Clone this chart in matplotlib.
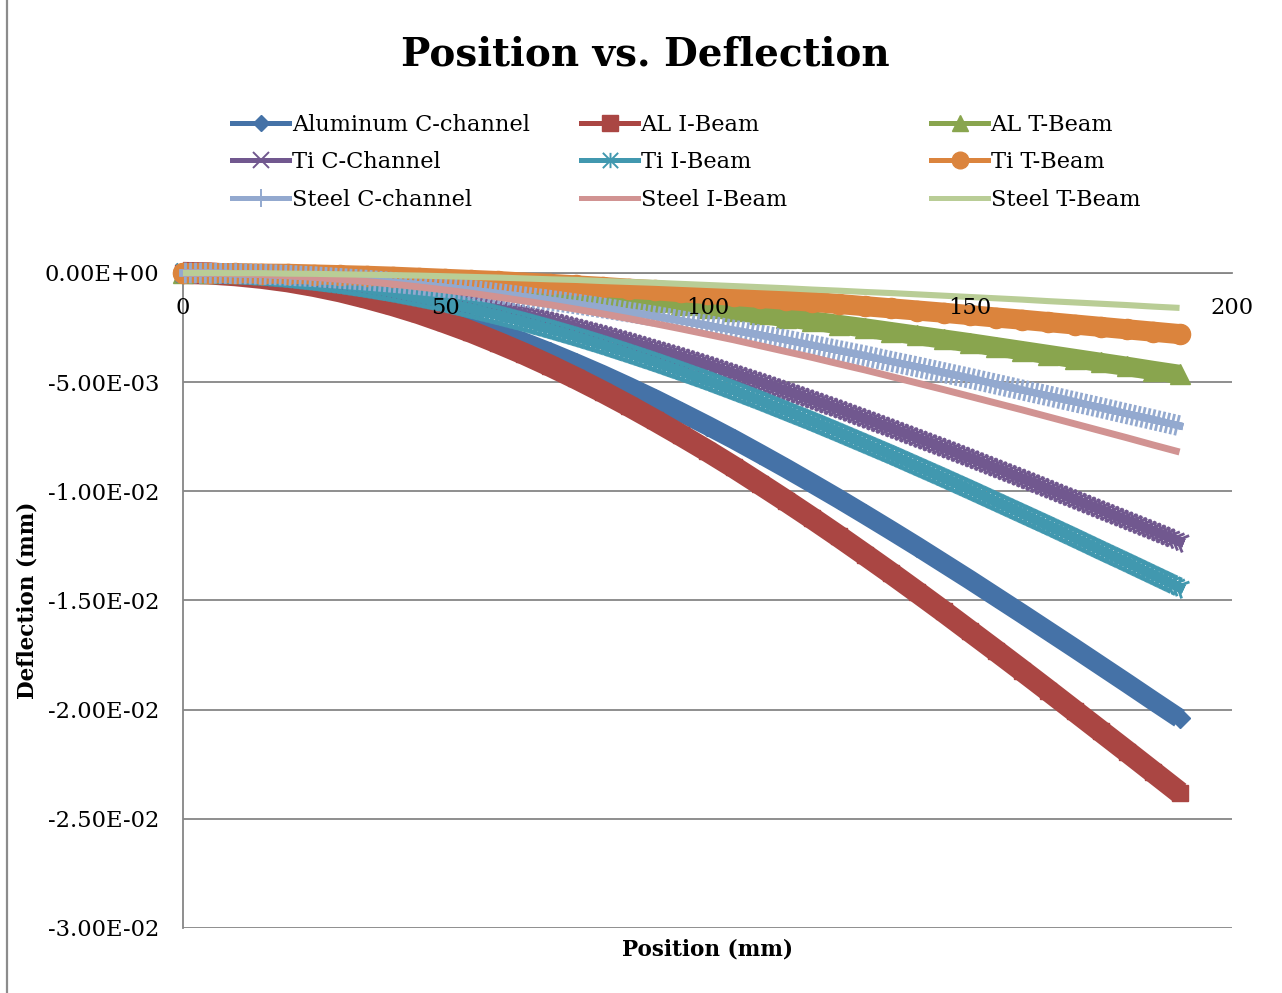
import numpy as np
import matplotlib.pyplot as plt
from matplotlib import patheffects as pe
from matplotlib.lines import Line2D
from matplotlib.path import Path
from matplotlib.ticker import FuncFormatter, MultipleLocator

plt.rcParams['font.family'] = ['DejaVu Serif']

# position along the beam (mm)
position = [0, 5, 10, 15, 20, 25, 30, 35, 40, 45, 50, 55, 60, 65, 70, 75, 80, 85, 90, 95,
            100, 105, 110, 115, 120, 125, 130, 135, 140, 145, 150, 155, 160, 165, 170, 175,
            180, 185, 190]

# downward deflection in micrometres at each position
al_c = [0, 0.02, 0.08, 0.19, 0.33, 0.51, 0.72, 0.97, 1.26, 1.58, 1.93, 2.32, 2.73, 3.17,
        3.64, 4.14, 4.66, 5.21, 5.78, 6.38, 6.99, 7.62, 8.28, 8.95, 9.64, 10.34, 11.06,
        11.79, 12.53, 13.29, 14.05, 14.83, 15.61, 16.40, 17.19, 17.99, 18.79, 19.60, 20.40]
al_i = [0, 0.02, 0.10, 0.22, 0.38, 0.59, 0.84, 1.14, 1.47, 1.84, 2.26, 2.70, 3.19, 3.70,
        4.25, 4.83, 5.44, 6.08, 6.75, 7.44, 8.15, 8.89, 9.66, 10.44, 11.24, 12.06, 12.90,
        13.75, 14.62, 15.50, 16.40, 17.30, 18.21, 19.13, 20.06, 20.99, 21.92, 22.86, 23.80]
al_t = [0, 0.00, 0.02, 0.04, 0.07, 0.12, 0.16, 0.22, 0.29, 0.36, 0.44, 0.53, 0.62, 0.72,
        0.83, 0.94, 1.06, 1.19, 1.32, 1.45, 1.59, 1.74, 1.89, 2.04, 2.20, 2.36, 2.52,
        2.69, 2.86, 3.03, 3.20, 3.38, 3.56, 3.74, 3.92, 4.10, 4.28, 4.47, 4.65]
ti_c = [0, 0.01, 0.05, 0.11, 0.20, 0.31, 0.44, 0.59, 0.76, 0.95, 1.17, 1.40, 1.65, 1.91,
        2.20, 2.50, 2.81, 3.14, 3.49, 3.84, 4.21, 4.60, 4.99, 5.40, 5.81, 6.23, 6.67,
        7.11, 7.56, 8.01, 8.47, 8.94, 9.41, 9.89, 10.37, 10.85, 11.33, 11.81, 12.30]
ti_i = [0, 0.01, 0.06, 0.13, 0.23, 0.36, 0.51, 0.69, 0.89, 1.12, 1.36, 1.64, 1.93, 2.24,
        2.57, 2.92, 3.29, 3.68, 4.08, 4.50, 4.93, 5.38, 5.84, 6.32, 6.80, 7.30, 7.81,
        8.32, 8.85, 9.38, 9.92, 10.47, 11.02, 11.57, 12.13, 12.70, 13.26, 13.83, 14.40]
ti_t = [0, 0.00, 0.01, 0.03, 0.04, 0.07, 0.10, 0.13, 0.17, 0.22, 0.27, 0.32, 0.37, 0.44,
        0.50, 0.57, 0.64, 0.72, 0.79, 0.88, 0.96, 1.05, 1.14, 1.23, 1.32, 1.42, 1.52,
        1.62, 1.72, 1.82, 1.93, 2.04, 2.14, 2.25, 2.36, 2.47, 2.58, 2.69, 2.80]
st_c = [0, 0.01, 0.03, 0.06, 0.11, 0.17, 0.25, 0.33, 0.43, 0.54, 0.66, 0.79, 0.94, 1.09,
        1.25, 1.42, 1.60, 1.79, 1.98, 2.19, 2.40, 2.62, 2.84, 3.07, 3.31, 3.55, 3.79,
        4.05, 4.30, 4.56, 4.82, 5.09, 5.36, 5.63, 5.90, 6.17, 6.45, 6.72, 7.00]
st_i = [0, 0.01, 0.03, 0.07, 0.13, 0.20, 0.29, 0.39, 0.51, 0.64, 0.78, 0.93, 1.10, 1.28,
        1.46, 1.66, 1.87, 2.09, 2.32, 2.56, 2.81, 3.06, 3.33, 3.60, 3.87, 4.16, 4.44,
        4.74, 5.04, 5.34, 5.65, 5.96, 6.27, 6.59, 6.91, 7.23, 7.55, 7.88, 8.20]
st_t = [0, 0.00, 0.01, 0.01, 0.03, 0.04, 0.06, 0.08, 0.10, 0.12, 0.15, 0.18, 0.21, 0.25,
        0.29, 0.32, 0.37, 0.41, 0.45, 0.50, 0.55, 0.60, 0.65, 0.70, 0.76, 0.81, 0.87,
        0.92, 0.98, 1.04, 1.10, 1.16, 1.22, 1.29, 1.35, 1.41, 1.47, 1.54, 1.60]

labels = ['Aluminum C-channel', 'AL I-Beam', 'AL T-Beam',
          'Ti C-Channel', 'Ti I-Beam', 'Ti T-Beam',
          'Steel C-channel', 'Steel I-Beam', 'Steel T-Beam']
colors = ['#4572A7', '#AA4643', '#89A54E', '#71588F', '#4198AF', '#DB843D',
          '#93A9CF', '#D19392', '#B9CD96']

# x with a vertical bar, the spreadsheet "star" marker
star = Path([(-1, -1), (1, 1), (-1, 1), (1, -1), (0, -1), (0, 1)],
            [Path.MOVETO, Path.LINETO, Path.MOVETO, Path.LINETO, Path.MOVETO, Path.LINETO])


def ticks(angles, length, spacing=3.6, lw=2.0):
    return [pe.withTickedStroke(spacing=spacing, angle=a, length=length, linewidth=lw)
            for a in angles]


def sci_label(v, _):
    if abs(v) < 1e-12:
        v = 0.0
    return f"{v:.2E}"


fig = plt.figure(figsize=(12.82, 9.93), dpi=100)
ax = fig.add_axes([0.1427, 0.0655, 0.8183, 0.6596])

x = np.array(position)
series = [al_c, al_i, al_t, ti_c, ti_i, ti_t, st_c, st_i, st_t]
ys = [-np.array(s) * 1e-3 for s in series]

# solid-marker series: a wide band with the markers on it
ax.plot(x, ys[0], color=colors[0], lw=14, solid_capstyle='butt', marker='D', ms=10,
        clip_on=False, zorder=3)
ax.plot(x, ys[1], color=colors[1], lw=16, solid_capstyle='butt', marker='s', ms=12,
        clip_on=False, zorder=3)
ax.plot(x, ys[2], color=colors[2], lw=14, solid_capstyle='butt', marker='^', ms=14,
        clip_on=False, zorder=3)

# stroke-marker series: line with hatching standing in for the packed markers
ax.plot(x, ys[3], color=colors[3], lw=6.5, clip_on=False, zorder=3,
        path_effects=[pe.Normal()] + ticks([45, -45, 135, -135], 2.3))
ax.plot(x, ys[4], color=colors[4], lw=6.5, clip_on=False, zorder=3,
        path_effects=[pe.Normal()] + ticks([45, -45, 135, -135], 2.3) + ticks([90, -90], 1.7))

ax.plot(x, ys[5], color=colors[5], lw=14.5, solid_capstyle='round', marker='o', ms=14.5,
        clip_on=False, zorder=3)
ax.plot(x, ys[6], color=colors[6], lw=5.2, clip_on=False, zorder=3,
        path_effects=[pe.Normal()] + ticks([90, -90], 1.8))
ax.plot(x, ys[7], color=colors[7], lw=5, solid_capstyle='butt', clip_on=False, zorder=3)
ax.plot(x, ys[8], color=colors[8], lw=4.4, solid_capstyle='butt', clip_on=False, zorder=3)

ax.set_xlim(0, 200)
ax.set_ylim(-0.03, 0)
ax.xaxis.set_major_locator(MultipleLocator(50))
ax.yaxis.set_major_locator(MultipleLocator(0.005))
ax.yaxis.set_major_formatter(FuncFormatter(sci_label))

ax.spines['bottom'].set_position(('data', 0))
ax.spines['top'].set_visible(False)
ax.spines['right'].set_visible(False)
for side in ('bottom', 'left'):
    ax.spines[side].set_color('#868686')
    ax.spines[side].set_linewidth(1.3)
ax.set_axisbelow(True)
ax.yaxis.grid(True, color='#868686', lw=1.3)
# position numbers sit on top of the curves
ax.xaxis.set_zorder(5)
ax.tick_params(axis='both', length=0, labelsize=16.3)
ax.tick_params(axis='y', pad=17)
ax.tick_params(axis='x', pad=17.5)

ax.set_xlabel('Position (mm)', fontsize=15.5, fontweight='bold')
ax.xaxis.set_label_coords(0.5, -0.016)
ax.set_ylabel('Deflection (mm)', fontsize=15.5, fontweight='bold')
ax.yaxis.set_label_coords(-0.138, 0.5)

fig.text(645 / 1282, 1 - 55 / 993, 'Position vs. Deflection', ha='center', va='center',
         fontsize=28, fontweight='bold')

# legend handles, one column per section shape
handles = [
    Line2D([], [], color=colors[0], lw=3.6, marker='D', ms=8),
    Line2D([], [], color=colors[1], lw=3.6, marker='s', ms=11),
    Line2D([], [], color=colors[2], lw=3.6, marker='^', ms=12),
    Line2D([], [], color=colors[3], lw=3.6, marker='x', ms=11, mew=1.4),
    Line2D([], [], color=colors[4], lw=3.6, marker=star, ms=11, mew=1.4, mfc='none'),
    Line2D([], [], color=colors[5], lw=3.6, marker='o', ms=12),
    Line2D([], [], color=colors[6], lw=3.6, marker='|', ms=13, mew=1.4),
    Line2D([], [], color=colors[7], lw=3.6),
    Line2D([], [], color=colors[8], lw=3.6),
]
col_x = [232, 581, 931]
for c in range(3):
    idx = [c, c + 3, c + 6]
    fig.legend([handles[i] for i in idx], [labels[i] for i in idx], loc='upper left',
               bbox_to_anchor=(col_x[c] / 1282, 1 - 114 / 993), frameon=False,
               fontsize=16.2, borderpad=0, borderaxespad=0, handlelength=2.55,
               handletextpad=0.1, labelspacing=0.68, numpoints=1)

# chart border on the left
fig.add_artist(Line2D([7 / 1282, 7 / 1282], [0, 1], transform=fig.transFigure,
                      color='#8c8c8c', lw=1.6))

fig.savefig('out.png', dpi=100)
